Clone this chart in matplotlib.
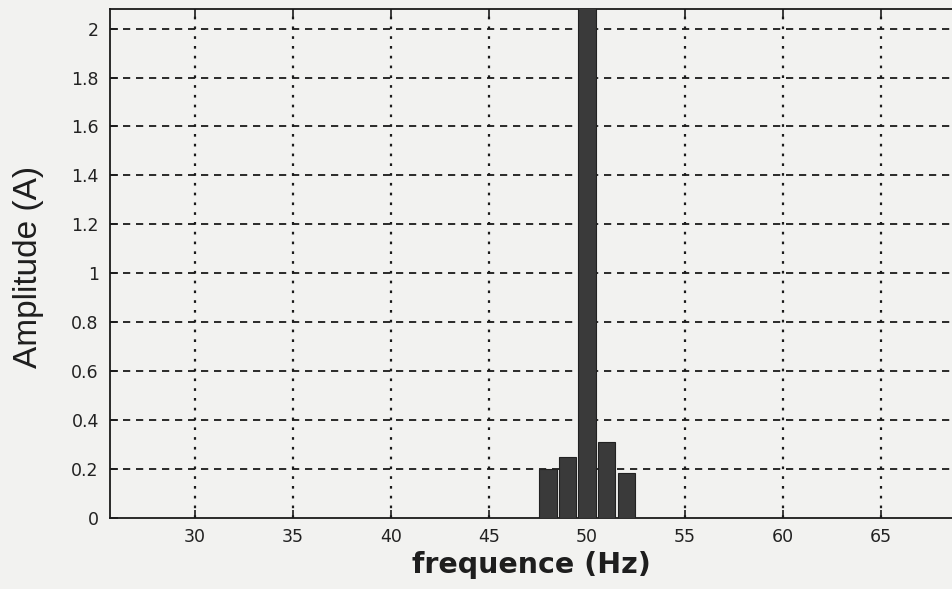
import matplotlib
matplotlib.use("Agg")
import matplotlib.pyplot as plt

# Spectrum around the fundamental
freqs = [48, 49, 50, 51, 52]
amplitudes = [0.20, 0.25, 2.30, 0.31, 0.185]

xticks = [30, 35, 40, 45, 50, 55, 60, 65]
yticks = [0, 0.2, 0.4, 0.6, 0.8, 1, 1.2, 1.4, 1.6, 1.8, 2]
ytick_labels = ["0", "0.2", "0.4", "0.6", "0.8", "1", "1.2", "1.4", "1.6", "1.8", "2"]

bg = "#f2f2f0"
ink = "#1a1a1a"

fig = plt.figure(figsize=(9.52, 5.89), dpi=100, facecolor=bg)
ax = fig.add_axes([0.1155, 0.1205, 0.913, 0.8642], facecolor=bg)

ax.bar(freqs, amplitudes, width=0.88, color="#3a3a3a", edgecolor="#222222",
       linewidth=0.8, zorder=3)

ax.set_xlim(25.66, 70.0)
ax.set_ylim(0, 2.08)
ax.set_xticks(xticks)
ax.set_yticks(yticks)
ax.set_yticklabels(ytick_labels)

# horizontal dashed grid, vertical dotted grid
for y in yticks[1:]:
    ax.axhline(y, color=ink, linewidth=1.3, linestyle=(0, (4, 3.2)), zorder=1)
for x in xticks:
    ax.axvline(x, color=ink, linewidth=1.6, linestyle=(0, (1.2, 3.2)), zorder=1)

for side in ["left", "bottom", "top", "right"]:
    ax.spines[side].set_color(ink)
    ax.spines[side].set_linewidth(1.3)

ax.tick_params(axis="both", direction="in", length=6, width=1.2, color=ink,
               labelsize=12.5, labelcolor="#222222", top=True, right=False)
ax.tick_params(axis="x", pad=7)
ax.tick_params(axis="y", pad=8)

ax.set_xlabel("frequence (Hz)", fontsize=20.5, color="#1e1e1e",
              fontweight="bold", family="DejaVu Sans")
ax.xaxis.set_label_coords(0.4845, -0.065)
ax.set_ylabel("Amplitude (A)", fontsize=24, color="#1e1e1e",
              family="Liberation Sans")
ax.yaxis.set_label_coords(-0.076, 0.493)

fig.savefig("out.png", dpi=100, facecolor=bg)
